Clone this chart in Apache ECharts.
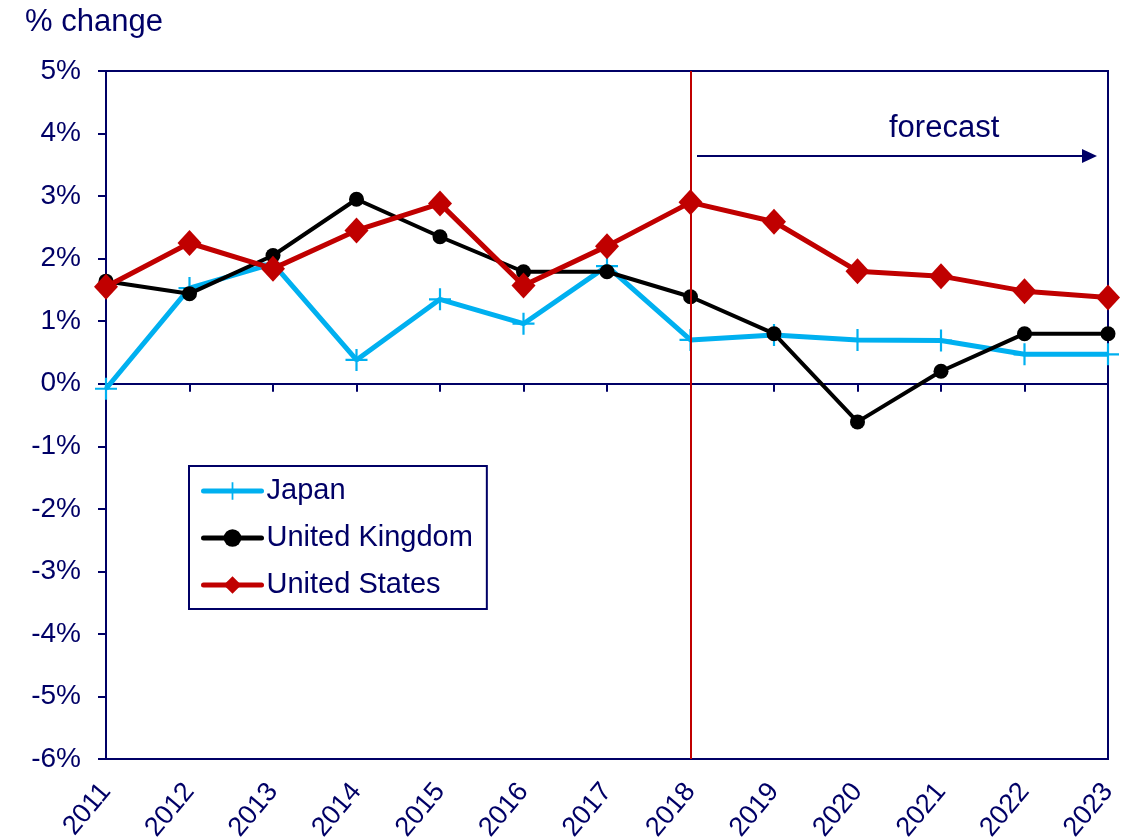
<!DOCTYPE html>
<html>
<head>
<meta charset="utf-8">
<script src="https://cdn.jsdelivr.net/npm/echarts@6/dist/echarts.min.js"></script>
<style>
  html, body { margin: 0; padding: 0; background: #fff; }
  #chart { width: 1135px; height: 840px; }
</style>
</head>
<body>
<div id="chart"></div>
<script>
// data
var years = ['2011', '2012', '2013', '2014', '2015', '2016', '2017', '2018', '2019', '2020', '2021', '2022', '2023']
var japan = [-0.08, 1.53, 1.92, 0.38, 1.35, 0.96, 1.88, 0.7, 0.78, 0.7, 0.69, 0.47, 0.47]
var uk = [1.64, 1.44, 2.05, 2.95, 2.35, 1.79, 1.79, 1.39, 0.8, -0.61, 0.2, 0.8, 0.8]
var us = [1.55, 2.25, 1.84, 2.45, 2.88, 1.57, 2.2, 2.9, 2.59, 1.8, 1.72, 1.48, 1.38]
var forecastYear = '2018'

var navy = '#000066'
var font = 'Liberation Sans, Arial, sans-serif'

var chart = echarts.init(document.getElementById('chart'))

// plus sign for Japan markers
var plus = 'path://M9,0h2v9h9v2h-9v9h-2v-9h-9v-2h9z'

var option = {
  backgroundColor: '#fff',
  animation: false,
  title: {
    text: '% change',
    left: 20,
    top: 2,
    textStyle: { color: navy, fontFamily: font, fontSize: 31, fontWeight: 'normal' }
  },
  grid: {
    left: 106, right: 27, top: 71, bottom: 81,
    outerBoundsMode: 'none',
    containLabel: false,
    show: true,
    borderColor: navy,
    borderWidth: 2,
    backgroundColor: 'transparent'
  },
  legend: {
    orient: 'vertical',
    left: 189,
    top: 466,
    padding: [9, 14, 8, 12],
    borderColor: navy,
    borderWidth: 2,
    itemWidth: 58,
    itemHeight: 22,
    itemGap: 15,
    lineStyle: { width: 5, cap: 'round' },
    textStyle: { color: navy, fontFamily: font, fontSize: 29, lineHeight: 32 },
    data: ['Japan', 'United Kingdom', 'United States']
  },
  xAxis: [
    {
      type: 'category',
      data: years,
      boundaryGap: false,
      position: 'bottom',
      axisLine: { show: false, onZero: false },
      axisTick: { show: false },
      axisLabel: {
        rotate: 50,
        margin: 28,
        interval: 0,
        color: navy,
        fontFamily: font,
        fontSize: 27
      },
      splitLine: { show: false }
    },
    {
      type: 'category',
      data: years,
      boundaryGap: false,
      position: 'bottom',
      axisLine: { show: true, onZero: true, lineStyle: { color: navy, width: 2 } },
      axisTick: { show: true, length: 8, interval: 0, lineStyle: { color: navy, width: 2 } },
      axisLabel: { show: false },
      splitLine: { show: false }
    }
  ],
  yAxis: {
    type: 'value',
    min: -6,
    max: 5,
    interval: 1,
    axisLine: { show: true, lineStyle: { color: navy, width: 2 } },
    axisTick: { show: true, length: 8, lineStyle: { color: navy, width: 2 } },
    axisLabel: {
      formatter: '{value}%',
      margin: 25,
      color: navy,
      fontFamily: font,
      fontSize: 28
    },
    splitLine: { show: false }
  },
  series: [
    {
      name: 'Japan',
      type: 'line',
      data: japan,
      color: '#00B0F0',
      lineStyle: { width: 5 },
      symbol: plus,
      symbolSize: 22,
      itemStyle: { color: '#00B0F0' },
      z: 3
    },
    {
      name: 'United Kingdom',
      type: 'line',
      data: uk,
      color: '#000000',
      lineStyle: { width: 4 },
      symbol: 'circle',
      symbolSize: 15,
      itemStyle: { color: '#000000' },
      z: 4
    },
    {
      name: 'United States',
      type: 'line',
      data: us,
      color: '#C00000',
      lineStyle: { width: 5 },
      symbol: 'diamond',
      symbolSize: [24, 26],
      itemStyle: { color: '#C00000' },
      z: 5,
      markLine: {
        silent: true,
        symbol: ['none', 'none'],
        label: { show: false },
        lineStyle: { color: '#C00000', width: 2, type: 'solid' },
        data: [{ xAxis: forecastYear }]
      }
    }
  ],
  graphic: [
    {
      type: 'line',
      shape: { x1: 697, y1: 156, x2: 1084, y2: 156 },
      style: { stroke: navy, lineWidth: 2 }
    },
    {
      type: 'polygon',
      shape: { points: [[1082, 149], [1097, 156], [1082, 163]] },
      style: { fill: navy }
    },
    {
      type: 'text',
      left: 889,
      top: 113,
      style: { text: 'forecast', fill: navy, font: '31px ' + font }
    }
  ]
}

chart.setOption(option)
</script>
</body>
</html>
